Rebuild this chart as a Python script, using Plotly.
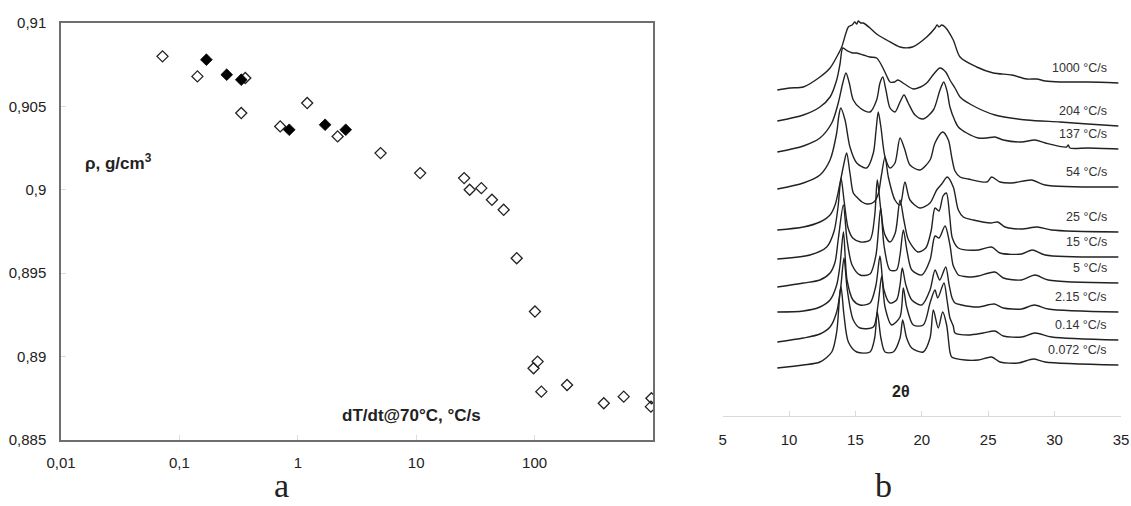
import plotly.graph_objects as go

# ---------------- panel a: density vs cooling rate ----------------
open_rate = [0.072, 0.142, 0.36, 0.333, 0.71, 1.2, 2.17, 5.0, 10.8, 25.4, 28.3, 35.5,
             43.6, 54.8, 70.6, 100.7, 106, 98, 114, 188, 384, 566, 970, 960]
open_rho = [0.9080, 0.9068, 0.9067, 0.9046, 0.9038, 0.9052, 0.9032, 0.9022, 0.9010,
            0.9007, 0.9000, 0.9001, 0.8994, 0.8988, 0.8959, 0.8927, 0.8897, 0.8893,
            0.8879, 0.8883, 0.8872, 0.8876, 0.8875, 0.8870]
filled_rate = [0.169, 0.251, 0.333, 0.847, 1.70, 2.54]
filled_rho = [0.9078, 0.9069, 0.9066, 0.9036, 0.9039, 0.9036]

rho_ticks = [0.885, 0.89, 0.895, 0.9, 0.905, 0.91]
rho_ticktext = ["0,885", "0,89", "0,895", "0,9", "0,905", "0,91"]
rate_ticks = [0.01, 0.1, 1, 10, 100]
rate_ticktext = ["0,01", "0,1", "1", "10", "100"]

# ---------------- panel b: WAXD patterns (2θ, intensity a.u.) ----------------
tt_1000 = [9.12, 10.08, 11.08, 12.33, 13.09, 13.59, 13.97, 14.47, 14.75, 14.95, 15.1, 15.22,
           15.4, 15.6, 16.1, 16.6, 17.36, 18.36, 19.3, 20.37, 21.0, 21.15, 21.3, 21.5, 21.75,
           22.37, 22.88, 24.13, 25.38, 26.77, 27.9, 28.65, 29.3, 30.41, 32.5, 34.8]
i_1000 = [326, 328, 329, 339, 348, 359, 369, 389, 391, 394, 392, 395,
          393, 393, 388, 382, 376, 369, 369, 379, 388, 391, 389, 391, 389,
          376, 359, 349, 343, 341, 337, 337, 335, 334, 334, 333]

tt_204 = [9.12, 11.08, 12.33, 13.09, 13.59, 13.84, 14.05, 14.3, 14.8, 15.1, 15.6, 16.1, 16.6,
          17.0, 17.36, 17.61, 17.95, 18.2, 18.7, 19.36, 19.9, 20.37, 20.9, 21.37, 21.8, 22.12,
          22.5, 22.88, 23.76, 25.51, 27.9, 30.41, 32.5, 34.8]
i_204 = [295, 301, 309, 319, 336, 352, 368, 366, 363, 363, 361, 359, 358,
         350, 340, 334, 334, 336, 332, 327, 329, 333, 342, 348, 344, 336,
         328, 319, 311, 301, 296, 294, 292, 290]

tt_137 = [9.12, 11.08, 12.33, 13.22, 13.71, 14.05, 14.29, 14.54, 14.84, 15.35, 16.1, 16.6,
          16.85, 17.06, 17.3, 17.61, 17.98, 18.36, 18.66, 18.98, 19.49, 20.11, 20.87, 21.37,
          21.65, 21.9, 22.12, 22.5, 22.75, 23.38, 24.25, 24.9, 25.51, 26.14, 27.5, 28.52,
          29.3, 30.9, 31.03, 31.15, 32.5, 34.8]
i_137 = [264, 270, 278, 293, 313, 333, 343, 333, 316, 308, 304, 316,
         333, 339, 326, 308, 304, 314, 321, 313, 301, 297, 306, 326,
         334, 325, 309, 295, 289, 283, 278, 278, 279, 276, 274, 276,
         273, 269, 271, 268, 268, 267]

tt_54 = [9.12, 11.08, 12.33, 13.09, 13.59, 13.75, 13.9, 14.22, 14.59, 15.1, 15.85, 16.35,
         16.55, 16.72, 16.92, 17.23, 17.61, 17.98, 18.36, 18.73, 19.11, 19.86, 20.62, 20.99,
         21.57, 22.0, 22.25, 22.5, 22.88, 23.5, 24.9, 25.26, 25.89, 26.77, 28.28, 29.28, 34.8]
i_54 = [227, 233, 241, 256, 283, 300, 308, 296, 269, 253, 248, 263,
        285, 304, 289, 259, 248, 253, 278, 266, 251, 246, 256, 273,
        284, 276, 259, 245, 239, 237, 234, 239, 234, 233, 236, 231, 229]

tt_25 = [9.12, 11.08, 12.33, 13.09, 13.47, 13.8, 14.1, 14.34, 14.59, 14.84, 15.1, 15.5,
         15.85, 16.4, 16.72, 16.95, 17.23, 17.48, 17.98, 18.36, 18.73, 19.11, 19.86, 20.62,
         21.12, 21.5, 21.92, 22.37, 22.75, 23.13, 23.88, 25.2, 25.72, 26.27, 27.52, 28.7,
         29.78, 34.8]
i_25 = [186, 189, 194, 201, 211, 230, 250, 263, 243, 223, 219, 214,
        212, 214, 222, 240, 259, 239, 216, 211, 234, 216, 208, 213,
        226, 232, 239, 229, 206, 199, 196, 193, 194, 189, 187, 189,
        186, 184]

tt_15 = [9.12, 11.58, 12.84, 13.4, 13.7, 13.92, 14.15, 14.45, 14.8, 15.4, 16.1, 16.45,
         16.65, 16.9, 17.2, 17.6, 18.0, 18.36, 18.65, 19.0, 19.7, 20.3, 20.7, 21.0, 21.3,
         21.6, 21.85, 22.1, 22.3, 22.75, 24.25, 25.26, 25.89, 27.52, 28.32, 29.28, 34.8]
i_15 = [157, 161, 169, 185, 210, 238, 215, 188, 178, 174, 176, 200,
        236, 208, 182, 174, 183, 216, 196, 176, 164, 168, 185, 208, 205,
        220, 223, 200, 178, 168, 166, 169, 163, 162, 166, 161, 159]

tt_5 = [9.12, 11.08, 12.33, 13.09, 13.47, 13.72, 14.09, 14.37, 14.75, 15.35, 16.1, 16.55,
        16.9, 17.15, 17.6, 18.1, 18.36, 18.61, 18.9, 19.25, 20.0, 20.62, 21.0, 21.3, 21.75,
        22.12, 22.35, 22.6, 22.75, 23.76, 24.25, 25.51, 26.14, 27.52, 28.52, 29.52, 34.8]
i_5 = [129, 133, 136, 143, 154, 178, 211, 176, 151, 141, 142, 161,
       208, 171, 146, 146, 161, 186, 164, 146, 141, 156, 180, 178, 190,
       171, 151, 144, 141, 139, 140, 144, 138, 136, 141, 136, 133]

tt_2_15 = [9.12, 11.08, 12.33, 13.09, 13.59, 13.84, 14.1, 14.37, 14.82, 15.35, 16.1, 16.55,
           16.85, 17.15, 17.6, 18.1, 18.36, 18.53, 18.8, 19.25, 20.0, 20.62, 21.0, 21.35,
           21.8, 22.06, 22.28, 22.5, 23.0, 24.25, 25.46, 26.14, 27.52, 28.47, 29.52, 34.8]
i_2_15 = [104, 105, 109, 116, 131, 151, 184, 136, 116, 111, 113, 131,
          160, 126, 113, 116, 131, 148, 131, 116, 111, 126, 146, 136,
          149, 131, 118, 113, 111, 109, 112, 108, 107, 111, 107, 104]

tt_0_14 = [9.12, 11.08, 12.33, 13.09, 13.59, 13.89, 14.14, 14.39, 14.84, 15.35, 16.35, 16.7,
           16.98, 17.23, 17.73, 18.36, 18.61, 18.86, 19.36, 20.11, 20.62, 20.99, 21.2, 21.67,
           21.9, 22.12, 22.37, 22.5, 23.5, 24.63, 25.51, 26.14, 27.52, 28.52, 29.78, 34.8]
i_0_14 = [74, 78, 82, 89, 104, 128, 158, 126, 96, 88, 89, 111,
          140, 109, 91, 99, 128, 109, 91, 91, 113, 126, 118, 133,
          116, 98, 90, 83, 81, 83, 85, 80, 79, 83, 79, 76]

tt_0_072 = [9.12, 11.08, 12.33, 13.22, 13.59, 13.84, 13.92, 14.14, 14.47, 15.1, 16.1, 16.45,
            16.65, 16.92, 17.23, 17.85, 18.36, 18.56, 18.86, 19.24, 20.11, 20.62, 20.87, 21.24,
            21.57, 21.87, 22.12, 22.25, 23.25, 24.25, 25.26, 25.89, 27.27, 28.4, 29.28, 34.8]
i_0_072 = [48, 51, 54, 64, 84, 124, 129, 101, 74, 64, 64, 78,
           104, 78, 64, 64, 78, 96, 78, 68, 64, 78, 106, 88,
           104, 91, 64, 59, 56, 56, 59, 54, 53, 57, 54, 51]

rate_labels = ["1000 °C/s", "204 °C/s", "137 °C/s", "54 °C/s", "25 °C/s",
               "15 °C/s", "5 °C/s", "2.15 °C/s", "0.14 °C/s", "0.072 °C/s"]
patterns = [(tt_1000, i_1000), (tt_204, i_204), (tt_137, i_137), (tt_54, i_54),
            (tt_25, i_25), (tt_15, i_15), (tt_5, i_5), (tt_2_15, i_2_15),
            (tt_0_14, i_0_14), (tt_0_072, i_0_072)]

two_theta_ticks = [5, 10, 15, 20, 25, 30, 35]

W, H = 1131, 506
INK = "#222222"
FONT = "Liberation Sans, Arial, sans-serif"

fig = go.Figure()

# panel a markers: open diamonds first, filled drawn on top
fig.add_trace(go.Scatter(
    x=open_rate, y=open_rho, mode="markers", xaxis="x", yaxis="y",
    marker=dict(symbol="diamond-open", size=8.5, color=INK, line=dict(width=1.3, color=INK)),
    showlegend=False, hoverinfo="x+y"))
fig.add_trace(go.Scatter(
    x=filled_rate, y=filled_rho, mode="markers", xaxis="x", yaxis="y",
    marker=dict(symbol="diamond", size=9, color="#000000", line=dict(width=0.8, color="#000000")),
    showlegend=False, hoverinfo="x+y"))

# panel b stacked patterns
for (tt, inten), lab in zip(patterns, rate_labels):
    if len(tt) != len(inten):
        raise ValueError(lab)
    fig.add_trace(go.Scatter(
        x=tt, y=inten, mode="lines", xaxis="x2", yaxis="y2",
        line=dict(color=INK, width=1.4, shape="spline", smoothing=0.8),
        showlegend=False, name=lab))

annotations = []
# curve labels sit a little above each pattern's right end
for (tt, inten), lab in zip(patterns, rate_labels):
    annotations.append(dict(
        x=34.1, y=inten[-1] + 15, xref="x2", yref="y2", text=lab,
        xanchor="right", yanchor="middle", showarrow=False,
        font=dict(family=FONT, size=12.5, color="#333333")))

annotations += [
    dict(x=83 / W, y=1 - 162 / H, xref="paper", yref="paper",
         text="<b>ρ, g/cm<sup>3</sup></b>", xanchor="left", yanchor="middle",
         showarrow=False, font=dict(family=FONT, size=17, color=INK)),
    dict(x=340 / W, y=1 - 415 / H, xref="paper", yref="paper",
         text="<b>dT/dt@70°C, °C/s</b>", xanchor="left", yanchor="middle",
         showarrow=False, font=dict(family=FONT, size=17, color=INK)),
    dict(x=18.43, y=25, xref="x2", yref="y2", text="<b>2θ</b>",
         xanchor="center", yanchor="middle", showarrow=False,
         font=dict(family=FONT, size=16, color=INK)),
    dict(x=281.7 / W, y=0, xref="paper", yref="paper", text="a",
         xanchor="center", yanchor="bottom", showarrow=False,
         font=dict(family="Liberation Serif, serif", size=34, color=INK)),
    dict(x=883 / W, y=0, xref="paper", yref="paper", text="b",
         xanchor="center", yanchor="bottom", showarrow=False,
         font=dict(family="Liberation Serif, serif", size=34, color=INK)),
]

fig.update_layout(
    width=W, height=H,
    margin=dict(l=0, r=0, t=0, b=0, autoexpand=False),
    paper_bgcolor="white", plot_bgcolor="white",
    font=dict(family=FONT, size=15, color=INK),
    xaxis=dict(
        type="log", range=[-2, 3], domain=[61 / W, 653 / W], anchor="y",
        tickvals=rate_ticks, ticktext=rate_ticktext, automargin=False,
        showline=True, linecolor="#6e6e6e", linewidth=1.5, mirror=True,
        ticks="inside", ticklen=5, tickcolor="#dcdcdc", tickwidth=1,
        showgrid=False, zeroline=False, ticklabelstandoff=8,
        tickfont=dict(family=FONT, size=15, color=INK)),
    yaxis=dict(
        range=[0.885, 0.91], domain=[1 - 440 / H, 1 - 23 / H], anchor="x",
        tickvals=rho_ticks, ticktext=rho_ticktext, automargin=False,
        showline=True, linecolor="#6e6e6e", linewidth=1.5, mirror=True,
        ticks="inside", ticklen=5, tickcolor="#dcdcdc", tickwidth=1,
        showgrid=False, zeroline=False, ticklabelstandoff=10,
        tickfont=dict(family=FONT, size=15, color=INK)),
    xaxis2=dict(
        range=[5, 35], domain=[722.6 / W, 1121 / W], anchor="y2",
        tickvals=two_theta_ticks, ticktext=[str(v) for v in two_theta_ticks],
        automargin=False,
        showline=True, linecolor="#d9d9d9", linewidth=1.2,
        ticks="inside", ticklen=5, tickcolor="#d9d9d9", tickwidth=1,
        showgrid=False, zeroline=False, ticklabelstandoff=10,
        tickfont=dict(family=FONT, size=15, color=INK)),
    yaxis2=dict(
        range=[0, 406], domain=[1 - 416 / H, 1 - 10 / H], anchor="x2",
        visible=False, showgrid=False, zeroline=False),
    annotations=annotations,
)

fig.write_html("out.html")
